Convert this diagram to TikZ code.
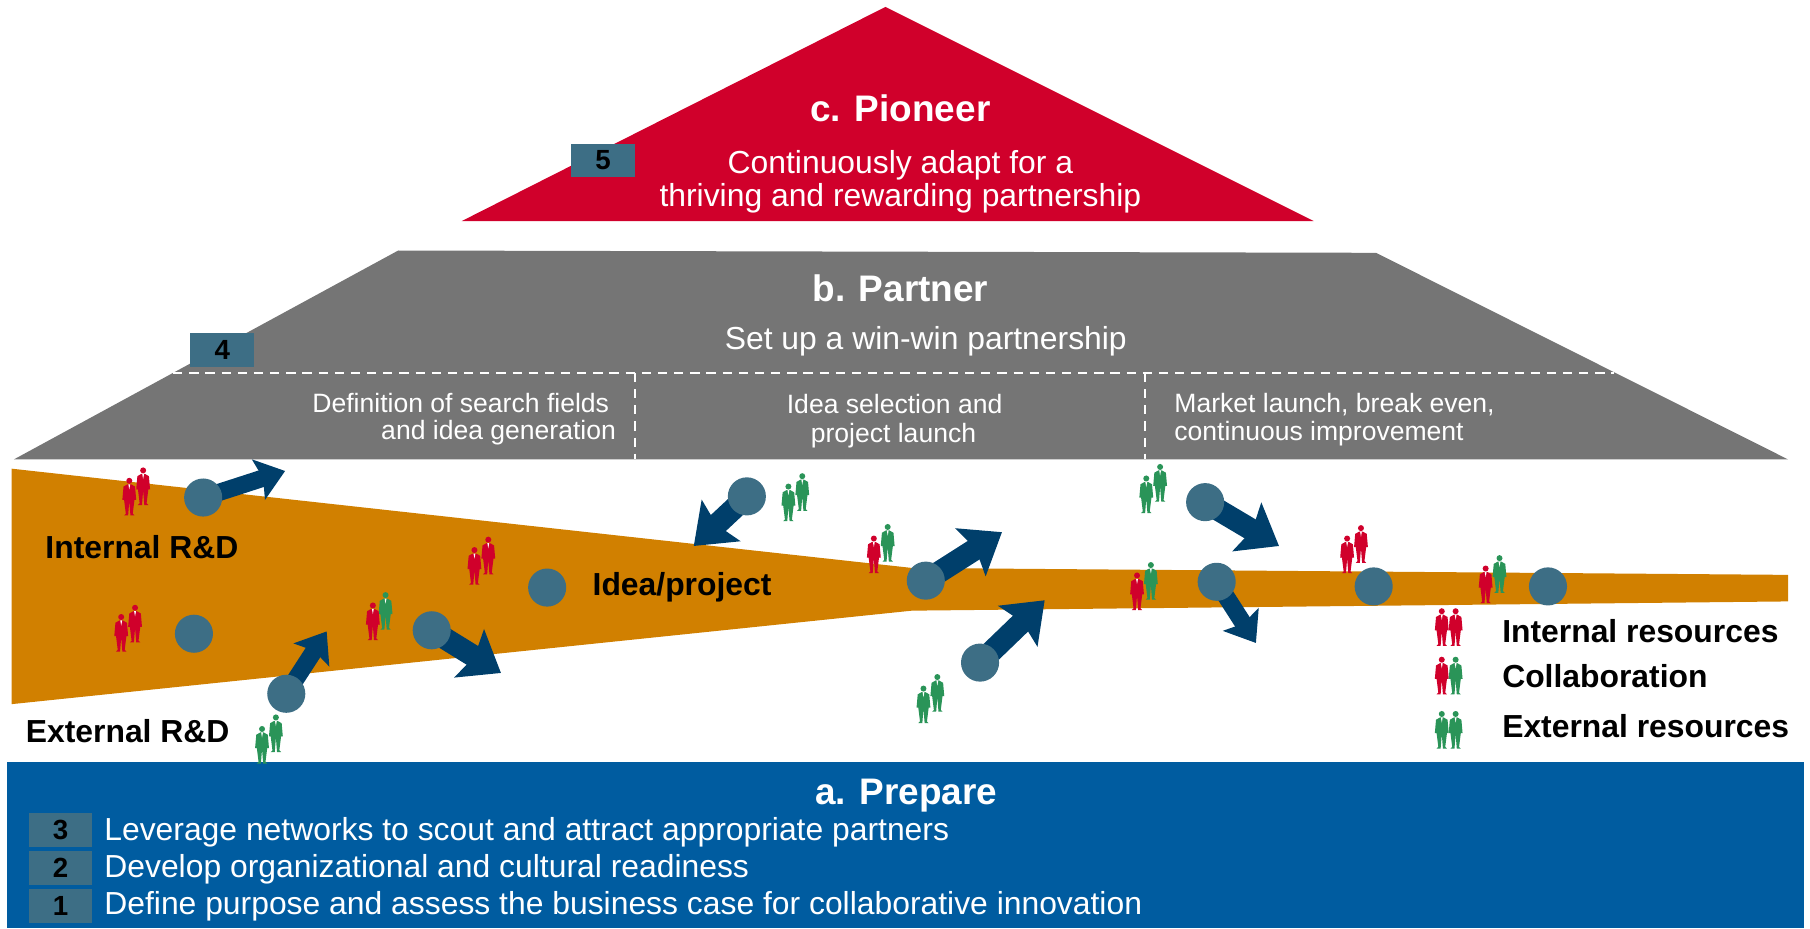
\documentclass[tikz,border=0pt]{standalone}
\usepackage{fontspec}
\setmainfont{Liberation Sans}
\usetikzlibrary{arrows.meta,backgrounds}

\definecolor{pioneerred}{HTML}{D0002B}
\definecolor{partnergray}{HTML}{757575}
\definecolor{funnelorange}{HTML}{D18000}
\definecolor{prepareblue}{HTML}{005CA0}
\definecolor{dotblue}{HTML}{3D6E85}
\definecolor{arrowblue}{HTML}{003F6B}
\definecolor{manred}{HTML}{D0002B}
\definecolor{mangreen}{HTML}{2A9458}

\tikzset{
  title/.style={text=white, inner sep=0pt, anchor=base, font=\fontsize{16}{19}\selectfont\bfseries},
  body/.style={text=white, inner sep=0pt, anchor=base, font=\fontsize{13.8}{16}\selectfont},
  small/.style={text=white, inner sep=0pt, anchor=base, font=\fontsize{11.5}{14}\selectfont},
  label/.style={text=black, inner sep=0pt, anchor=base west, font=\fontsize{13.8}{17}\selectfont\bfseries},
  badge/.style={fill=dotblue, minimum width=27.5pt, minimum height=14.5pt, inner sep=0pt, font=\fontsize{12}{14}\selectfont\bfseries},
  dot/.style={circle, fill=dotblue, minimum size=16.5pt, inner sep=0pt},
  flow/.style={arrowblue, line width=9.5pt, -{Stealth[length=16pt,width=24pt,inset=2.5pt]}},
  thin flow/.style={arrowblue, line width=7.5pt, -{Stealth[length=12pt,width=18pt,inset=2pt]}},
  divider/.style={white, line width=1.1pt, dash pattern=on 4pt off 3pt},
  red man/.style={fill=manred},
  green man/.style={fill=mangreen},
  man/.pic={
    \fill[pic actions] (0,-13.5) circle (2.6);
    \fill[pic actions] (-1.5,-10.5) -- (1.5,-10.5) -- (5,-8.5) -- (6,3) -- (4.5,3) -- (3,15) -- (4.5,16.5)
      -- (1,16.5) -- (0,4) -- (-1,16.5) -- (-4.5,16.5) -- (-3,15) -- (-4.5,3) -- (-6,3) -- (-5,-8.5) -- cycle;
    \fill[white] (-0.8,-10.5) -- (0.8,-10.5) -- (0,-6) -- cycle;
  }
}

\begin{document}
\begin{tikzpicture}[x=0.5pt, y=-0.5pt]
    \useasboundingbox (0,0) rectangle (1568,804);

    % pyramid levels
    \fill[pioneerred] (767,6) -- (1138,191.5) -- (400,191.5) -- cycle;
    \fill[partnergray] (345,217) -- (1192,219) -- (1549,398) -- (12,398) -- cycle;
    \fill[prepareblue] (6,660) rectangle (1563,804);

    \draw[divider] (150,323) -- (1398,323);
    \draw[divider] (550,323) -- (550,398);
    \draw[divider] (992,323) -- (992,398);

    % texts of the levels
    \node[title] (pioneer) at (780,105) {c. Pioneer};
    \node[body] (adapt) at (780,150) {Continuously adapt for a};
    \node[body] (thrive) at (780,179) {thriving and rewarding partnership};
    \node[title] (partner) at (780,261) {b. Partner};
    \node[body] (winwin) at (802,303) {Set up a win-win partnership};
    \node[small, anchor=base east] (search) at (528,357) {Definition of search fields};
    \node[small, anchor=base east] (ideagen) at (534,381) {and idea generation};
    \node[small] (selection) at (775,358) {Idea selection and};
    \node[small] (launch) at (774,383) {project launch};
    \node[small, anchor=base west] (market) at (1017,357) {Market launch, break even,};
    \node[small, anchor=base west] (improve) at (1017,382) {continuous improvement};
    \node[title] (prepare) at (785,697) {a. Prepare};
    \node[body, anchor=base west] (scout) at (90,728) {Leverage networks to scout and attract appropriate partners};
    \node[body, anchor=base west] (ready) at (90,760) {Develop organizational and cultural readiness};
    \node[body, anchor=base west] (purpose) at (90,792) {Define purpose and assess the business case for collaborative innovation};

    % step numbers
    \node[badge] (step5) at (522.5,139) {5};
    \node[badge] (step4) at (192.5,303) {4};
    \node[badge] (step3) at (52.5,719) {3};
    \node[badge] (step2) at (52.5,752) {2};
    \node[badge] (step1) at (52.5,785) {1};

    % ideas
    \node[dot] (idea1) at (176,431) {};
    \node[dot] (idea2) at (168,549) {};
    \node[dot] (idea3) at (248,601) {};
    \node[dot] (idea4) at (374,546) {};
    \node[dot] (idea5) at (474,509) {};
    \node[dot] (idea6) at (647,430) {};
    \node[dot] (idea7) at (802,503) {};
    \node[dot] (idea8) at (849,574) {};
    \node[dot] (idea9) at (1044,435) {};
    \node[dot] (idea10) at (1054,504) {};
    \node[dot] (idea11) at (1190,508) {};
    \node[dot] (idea12) at (1341,508) {};

    % arrow ends
    \coordinate (out1) at (247,408);
    \coordinate (out3) at (283,547);
    \coordinate (out4) at (434,583);
    \coordinate (out6) at (601,473);
    \coordinate (out7) at (868,461);
    \coordinate (out8) at (905,520);
    \coordinate (out9) at (1108,473);
    \coordinate (out10) at (1088,557);

    % funnel and arrows
    \begin{scope}[on background layer]
      \fill[funnelorange] (10,406) -- (790,492) -- (1549,498) -- (1549,521) -- (790,529) -- (10,610) -- cycle;
      \draw[thin flow] (idea1.center) -- (out1);
      \draw[thin flow] (idea3.center) -- (out3);
      \draw[flow] (idea4.center) -- (out4);
      \draw[flow] (idea6.center) -- (out6);
      \draw[flow] (idea7.center) -- (out7);
      \draw[flow] (idea8.center) -- (out8);
      \draw[flow] (idea9.center) -- (out9);
      \draw[thin flow] (idea10.center) -- (out10);
    \end{scope}

    % funnel labels
    \node[label] (internal) at (39,484) {Internal R\&D};
    \node[label] (external) at (22,643) {External R\&D};
    \node[label] (project) at (513,516) {Idea/project};
    \node[label] (keyint) at (1301,557) {Internal resources};
    \node[label] (keycol) at (1301,596) {Collaboration};
    \node[label] (keyext) at (1301,639) {External resources};

    % people
    \pic[red man] at (124,421) {man};
    \pic[red man] at (112,430) {man};
    \pic[green man] at (239,635) {man};
    \pic[green man] at (227,645) {man};
    \pic[red man] at (117,540) {man};
    \pic[red man] at (105,548) {man};
    \pic[green man] at (334,529) {man};
    \pic[red man] at (323,538) {man};
    \pic[red man] at (423,481) {man};
    \pic[red man] at (411,490) {man};
    \pic[green man] at (695,426) {man};
    \pic[green man] at (683,435) {man};
    \pic[green man] at (769,470) {man};
    \pic[red man] at (757,480) {man};
    \pic[green man] at (812,600) {man};
    \pic[green man] at (800,610) {man};
    \pic[green man] at (1005,418) {man};
    \pic[green man] at (993,428) {man};
    \pic[green man] at (997,503) {man};
    \pic[red man] at (985,512) {man};
    \pic[red man] at (1179,471) {man};
    \pic[red man] at (1167,480) {man};
    \pic[green man] at (1299,497) {man};
    \pic[red man] at (1287,506) {man};

    % key
    \pic[red man] at (1249,543) {man};
    \pic[red man] at (1261,543) {man};
    \pic[red man] at (1249,585) {man};
    \pic[green man] at (1261,585) {man};
    \pic[green man] at (1249,632) {man};
    \pic[green man] at (1261,632) {man};

  \end{tikzpicture}
\end{document}
